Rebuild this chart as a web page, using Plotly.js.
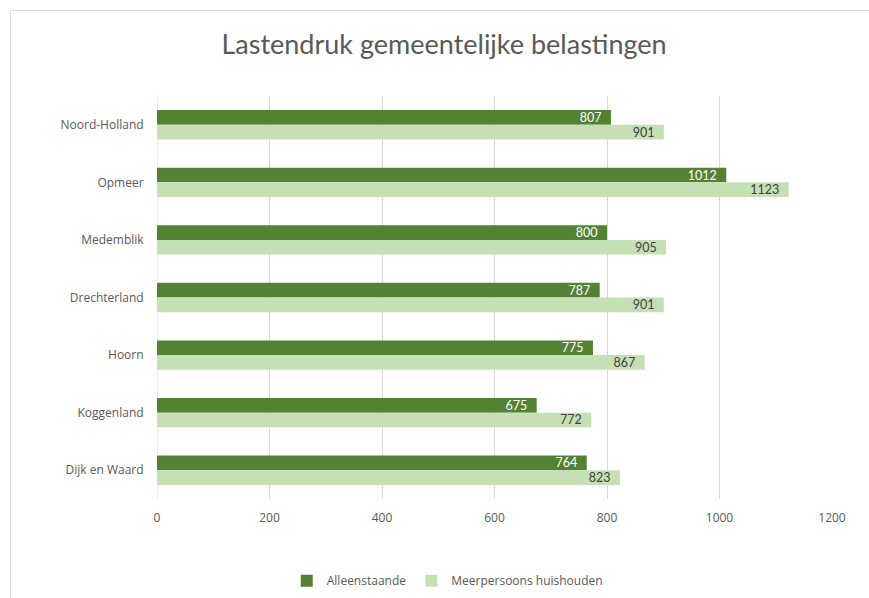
<!DOCTYPE html>
<html>
<head>
<meta charset="utf-8">
<script src="https://cdn.plot.ly/plotly-3.0.1.min.js"></script>
<style>
html,body{margin:0;padding:0;background:#fff;}
#wrap{position:relative;width:869px;height:598px;overflow:hidden;}
#chart{position:absolute;left:0;top:0;width:869px;height:598px;}
#frame{position:absolute;left:10px;top:10px;width:870px;height:600px;border:1px solid #d9d9d9;pointer-events:none;box-sizing:border-box;}
</style>
</head>
<body>
<div id="wrap"><div id="chart"></div><div id="frame"></div></div>
<script>
const categories = ["Noord-Holland","Opmeer","Medemblik","Drechterland","Hoorn","Koggenland","Dijk en Waard"];
const alleenstaande = [807,1012,800,787,775,675,764];
const meerpersoons = [901,1123,905,901,867,772,823];
const seriesNames = ["Alleenstaande","Meerpersoons huishouden"];
const xTicks = [0,200,400,600,800,1000,1200];

const lblFont = {family:"Open Sans, Noto Sans, sans-serif", size:12, color:"#595959"};
const pad = v => String(v) + "\u00a0\u00a0";

const traces = [
  {type:"bar", orientation:"h", name:seriesNames[0], y:categories, x:alleenstaande,
   marker:{color:"#548235"}, text:alleenstaande.map(pad), textposition:"inside",
   insidetextanchor:"end", textangle:0, constraintext:"none",
   insidetextfont:{family:"Lato, sans-serif", size:12.5, color:"#ffffff"}, hoverinfo:"x+y"},
  {type:"bar", orientation:"h", name:seriesNames[1], y:categories, x:meerpersoons,
   marker:{color:"#C5E0B4"}, text:meerpersoons.map(pad), textposition:"inside",
   insidetextanchor:"end", textangle:0, constraintext:"none",
   insidetextfont:{family:"Lato, sans-serif", size:12.5, color:"#404040"}, hoverinfo:"x+y"}
];

const layout = {
  width:869, height:598,
  margin:{l:157, r:37, t:96, b:99, autoexpand:false},
  paper_bgcolor:"rgba(0,0,0,0)", plot_bgcolor:"rgba(0,0,0,0)",
  title:{text:"Lastendruk gemeentelijke belastingen", font:{family:"Lato, sans-serif", size:27, color:"#595959"},
         x:0.511, xanchor:"center", xref:"container", y:0.925, yanchor:"middle", yref:"container"},
  barmode:"group", bargap:0.49, bargroupgap:0,
  uniformtext:{mode:false},
  xaxis:{range:[0,1200], tickvals:xTicks, ticktext:xTicks.map(String), showgrid:true, gridcolor:"#d9d9d9", gridwidth:1,
         zeroline:false, showline:false, ticks:"outside", ticklen:8, tickcolor:"rgba(0,0,0,0)",
         tickfont:lblFont, fixedrange:true},
  yaxis:{type:"category", categoryorder:"array", categoryarray:categories, autorange:"reversed",
         showgrid:false, zeroline:false, showline:false, ticks:"outside", ticklen:10, tickcolor:"rgba(0,0,0,0)",
         tickfont:lblFont, fixedrange:true},
  showlegend:true,
  legend:{orientation:"h", x:0.43, xanchor:"center", y:-0.203, yanchor:"middle",
          font:lblFont, itemwidth:30, traceorder:"normal"},
  shapes:[{type:"line", xref:"x", yref:"paper", x0:0, x1:0, y0:0, y1:1, line:{color:"#d9d9d9", width:1}, layer:"below"}]
};

Plotly.newPlot("chart", traces, layout, {displayModeBar:false, staticPlot:true});
</script>
</body>
</html>
